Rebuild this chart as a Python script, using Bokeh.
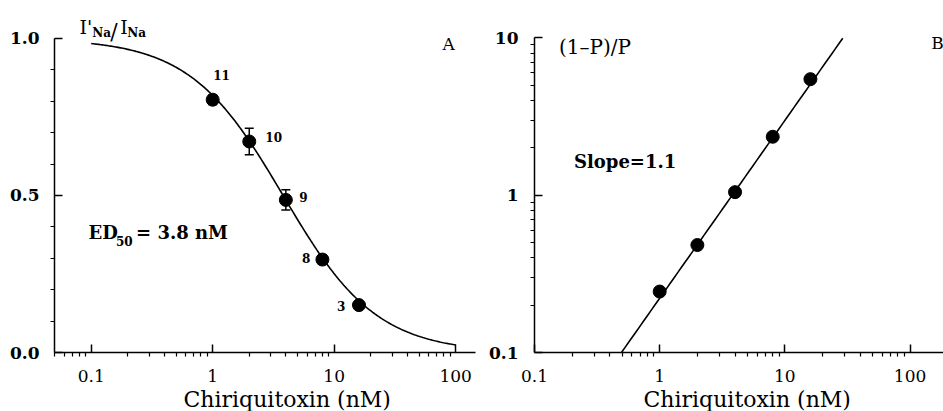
import numpy as np
from bokeh.plotting import figure
from bokeh.models import Label, FixedTicker, Whisker, ColumnDataSource, Range1d, Title
from bokeh.layouts import row
from bokeh.embed import file_html
from bokeh.resources import INLINE

# ---- data ----
conc_nM = [1, 2, 4, 8, 16]
frac_remaining = [0.805, 0.672, 0.486, 0.296, 0.151]   # I'Na/INa
frac_err = [0.015, 0.042, 0.032, 0.015, 0.010]
n_cells = ["11", "10", "9", "8", "3"]
odds_ratio = [0.244, 0.482, 1.045, 2.35, 5.46]          # (1-P)/P
ed50_nM = 3.8
hill_slope = 1.13
fitB_x_ends = [0.497, 29.0]

x_ticks = [0.1, 1, 10, 100]
x_tick_labels = ["0.1", "1", "10", "100"]
yA_ticks = [0.0, 0.5, 1.0]
yA_tick_labels = ["0.0", "0.5", "1.0"]
yB_ticks = [0.1, 1, 10]
yB_tick_labels = ["0.1", "1", "10"]
x_title = "Chiriquitoxin (nM)"

FONT = "DejaVu Serif"
log_minor_all = [m * 10.0 ** e for e in range(-2, 3) for m in range(2, 10)]
x_minor = [v for v in log_minor_all if 0.0499 <= v <= 185]
yB_minor = [v for v in log_minor_all if 0.1 <= v <= 10]
yA_minor = [i / 10 for i in range(11) if i % 5]


def style(p):
    p.outline_line_color = None
    p.xgrid.visible = False
    p.ygrid.visible = False
    p.background_fill_color = "white"
    p.border_fill_color = "white"
    for ax in (p.xaxis[0], p.yaxis[0]):
        ax.axis_line_color = "black"
        ax.axis_line_width = 1.5
        ax.major_tick_in = 8
        ax.major_tick_out = 0
        ax.minor_tick_in = 0
        ax.minor_tick_out = 4
        ax.major_tick_line_color = "black"
        ax.minor_tick_line_color = "black"
        ax.major_tick_line_width = 1.5
        ax.minor_tick_line_width = 1.2
        ax.major_label_text_font = FONT
        ax.major_label_text_font_size = "17px"
        ax.major_label_text_color = "black"
    p.xaxis[0].major_label_standoff = 13
    p.yaxis[0].major_label_text_font_style = "bold"


def lab(p, x, y, text, size, bold=False, align="left", baseline="alphabetic"):
    p.add_layout(Label(x=x, y=y, text=text, text_font=FONT, text_font_size=size,
                       text_font_style="bold" if bold else "normal",
                       text_align=align, text_baseline=baseline, text_color="black"))


def bottom_title(p, offset):
    p.add_layout(Title(text=x_title, align="left", offset=offset, standoff=0,
                       text_font=FONT, text_font_size="22px", text_font_style="normal",
                       text_color="black"), "below")


# ---------------- Panel A ----------------
pA = figure(width=485, height=411, x_axis_type="log",
            x_range=Range1d(0.0499, 145.6), y_range=Range1d(0, 1.121),
            output_backend="svg", toolbar_location=None,
            min_border_left=54, min_border_right=10,
            min_border_top=0, min_border_bottom=59)
style(pA)
pA.xaxis.ticker = FixedTicker(ticks=x_ticks, minor_ticks=x_minor)
pA.xaxis.major_label_overrides = dict(zip(x_ticks, x_tick_labels))
pA.yaxis.ticker = FixedTicker(ticks=yA_ticks, minor_ticks=yA_minor)
pA.yaxis.major_label_overrides = dict(zip(yA_ticks, yA_tick_labels))
pA.yaxis.major_label_standoff = 11
pA.yaxis.bounds = (0, 1)
bottom_title(pA, 129)

xf = np.logspace(-1, 2, 300)
pA.line(xf, 1.0 / (1.0 + (xf / ed50_nM) ** hill_slope), line_color="black", line_width=1.6)

src = ColumnDataSource(dict(
    x=conc_nM, y=frac_remaining,
    lo=[v - e for v, e in zip(frac_remaining, frac_err)],
    hi=[v + e for v, e in zip(frac_remaining, frac_err)]))
wh = Whisker(base="x", lower="lo", upper="hi", source=src, line_color="black", line_width=1.5)
wh.upper_head.size = 9
wh.lower_head.size = 9
wh.upper_head.line_width = 1.5
wh.lower_head.line_width = 1.5
pA.add_layout(wh)
pA.scatter("x", "y", source=src, size=13, color="black")

# point labels (number of cells)
lab(pA, 1.01, 0.884, n_cells[0], "12px", True, "left", "middle")
lab(pA, 2.71, 0.687, n_cells[1], "12px", True, "left", "middle")
lab(pA, 5.16, 0.496, n_cells[2], "12px", True, "left", "middle")
lab(pA, 6.37, 0.302, n_cells[3], "12px", True, "right", "middle")
lab(pA, 12.36, 0.149, n_cells[4], "12px", True, "right", "middle")

# y title I'Na/INa
lab(pA, 0.0800, 1.036, "I'", "19px")
lab(pA, 0.1019, 1.016, "Na", "12px", True)
lab(pA, 0.1434, 1.022, "/", "22px")
lab(pA, 0.1734, 1.036, "I", "19px")
lab(pA, 0.198, 1.016, "Na", "12px", True)

# ED50 text
lab(pA, 0.095, 0.382, "ED", "18px", True)
lab(pA, 0.160, 0.356, "50", "12px", True)
lab(pA, 0.234, 0.382, "= 3.8 nM", "18px", True)

lab(pA, 77.8, 0.983, "A", "17px")

# ---------------- Panel B ----------------
pB = figure(width=458, height=411, x_axis_type="log", y_axis_type="log",
            x_range=Range1d(0.1, 185.0), y_range=Range1d(0.1, 17.26),
            output_backend="svg", toolbar_location=None,
            min_border_left=43, min_border_right=0,
            min_border_top=0, min_border_bottom=58)
style(pB)
pB.xaxis.ticker = FixedTicker(ticks=x_ticks, minor_ticks=x_minor)
pB.xaxis.major_label_overrides = dict(zip(x_ticks, x_tick_labels))
pB.yaxis.ticker = FixedTicker(ticks=yB_ticks, minor_ticks=yB_minor)
pB.yaxis.major_label_overrides = dict(zip(yB_ticks, yB_tick_labels))
pB.yaxis.major_label_standoff = 12
pB.yaxis.bounds = (0.1, 10)
bottom_title(pB, 109)

xb = np.logspace(np.log10(fitB_x_ends[0]), np.log10(fitB_x_ends[1]), 60)
pB.line(xb, (xb / ed50_nM) ** hill_slope, line_color="black", line_width=1.6)
pB.scatter(conc_nM, odds_ratio, size=13, color="black")

lab(pB, 0.157, 8.77, "(1\u2013P)/P", "20px")
lab(pB, 0.2066, 1.64, "Slope=1.1", "18px", True)
lab(pB, 148.0, 9.25, "B", "17px")

layout = row(pA, pB)
open("out.html", "w").write(file_html(layout, INLINE))
